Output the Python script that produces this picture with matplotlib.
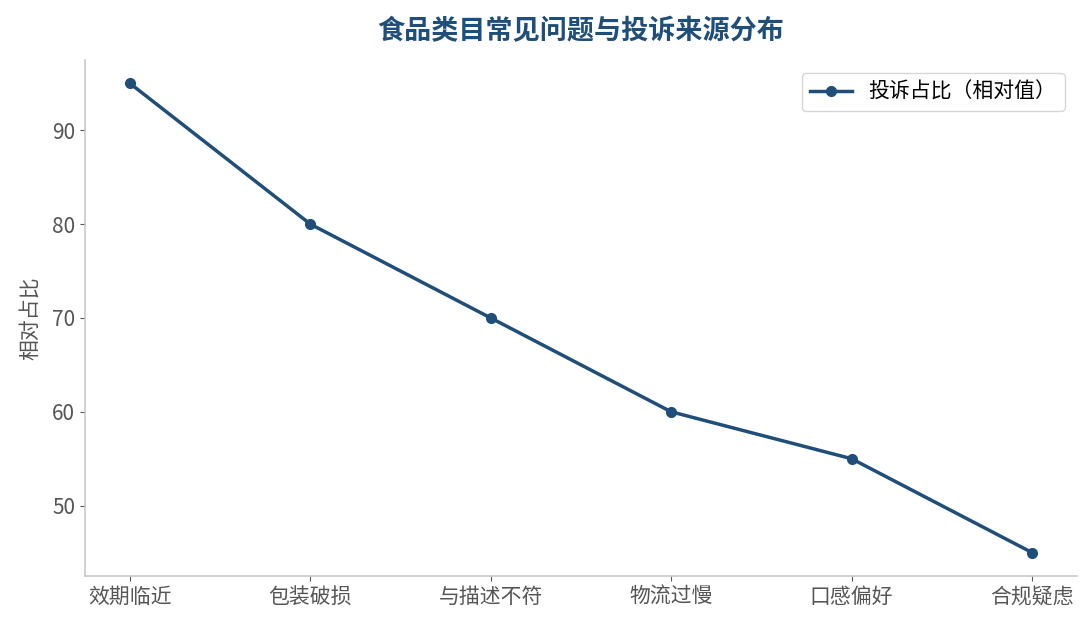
import matplotlib
matplotlib.use("Agg")
import matplotlib.pyplot as plt

plt.rcParams['font.family'] = ['Noto Sans CJK SC', 'DejaVu Sans']

categorias = ["效期临近", "包装破损", "与描述不符", "物流过慢", "口感偏好", "合规疑虑"]
valores = [95, 80, 70, 60, 55, 45]

color_linea = "#1f4e79"

fig = plt.figure(figsize=(10.92, 6.29), dpi=100)
ax = fig.add_axes([0.0778, 0.0843, 0.9085, 0.8203])

ax.plot(categorias, valores, color=color_linea, linewidth=2.5, marker="o",
        markersize=7, label="投诉占比（相对值）")

ax.set_title("食品类目常见问题与投诉来源分布", fontsize=19.5, fontweight="bold",
             color=color_linea, pad=15)
ax.set_ylabel("相对占比", fontsize=15, color="#555555", labelpad=8)

for lado in ["top", "right"]:
    ax.spines[lado].set_visible(False)
for lado in ["left", "bottom"]:
    ax.spines[lado].set_color("#c8c8c8")
    ax.spines[lado].set_linewidth(1.2)

ax.tick_params(axis="both", colors="#555555", labelsize=15)
ax.set_yticks([50, 60, 70, 80, 90])

ax.legend(loc="upper right", fontsize=15, frameon=True, edgecolor="#cccccc",
          fancybox=True, borderaxespad=0.6)

fig.savefig("out.png", dpi=100)
